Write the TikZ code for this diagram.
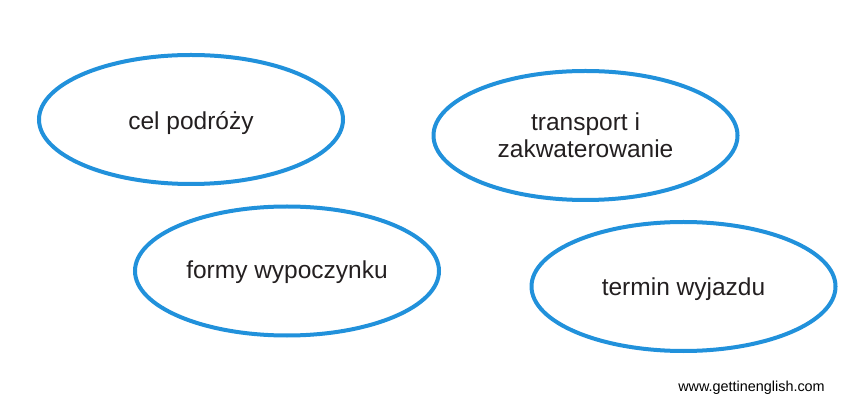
\documentclass[tikz,border=0pt]{standalone}
\usepackage{fontspec}
\setmainfont{Liberation Sans}
\usetikzlibrary{shapes.geometric}
\definecolor{ovalblue}{RGB}{33,145,219}
\definecolor{textdark}{RGB}{35,31,32}
\tikzset{
  oval/.style={ellipse, draw=ovalblue, line width=4pt, minimum width=304pt, minimum height=129pt,
    inner sep=0pt, align=center, text=textdark, font=\fontsize{24.5}{27}\selectfont},
  urltext/.style={text=black, font=\fontsize{14.4}{16}\selectfont, inner sep=0pt}
}
\begin{document}
\begin{tikzpicture}[x=1pt,y=1pt]
\useasboundingbox (0,0) rectangle (858,412);
\node[oval, text height=23pt, text depth=3.4pt] (cel) at (191,292.5) {cel podróży};
\node[oval] (transport) at (585.5,276.5) {transport i\\zakwaterowanie};
\node[oval, text height=19pt, text depth=4pt] (formy) at (287,141) {formy wypoczynku};
\node[oval, text height=21.5pt, text depth=2.5pt] (termin) at (683.5,125.5) {termin wyjazdu};
\node[urltext] (url) at (751.5,24) {www.gettinenglish.com};
\end{tikzpicture}
\end{document}
